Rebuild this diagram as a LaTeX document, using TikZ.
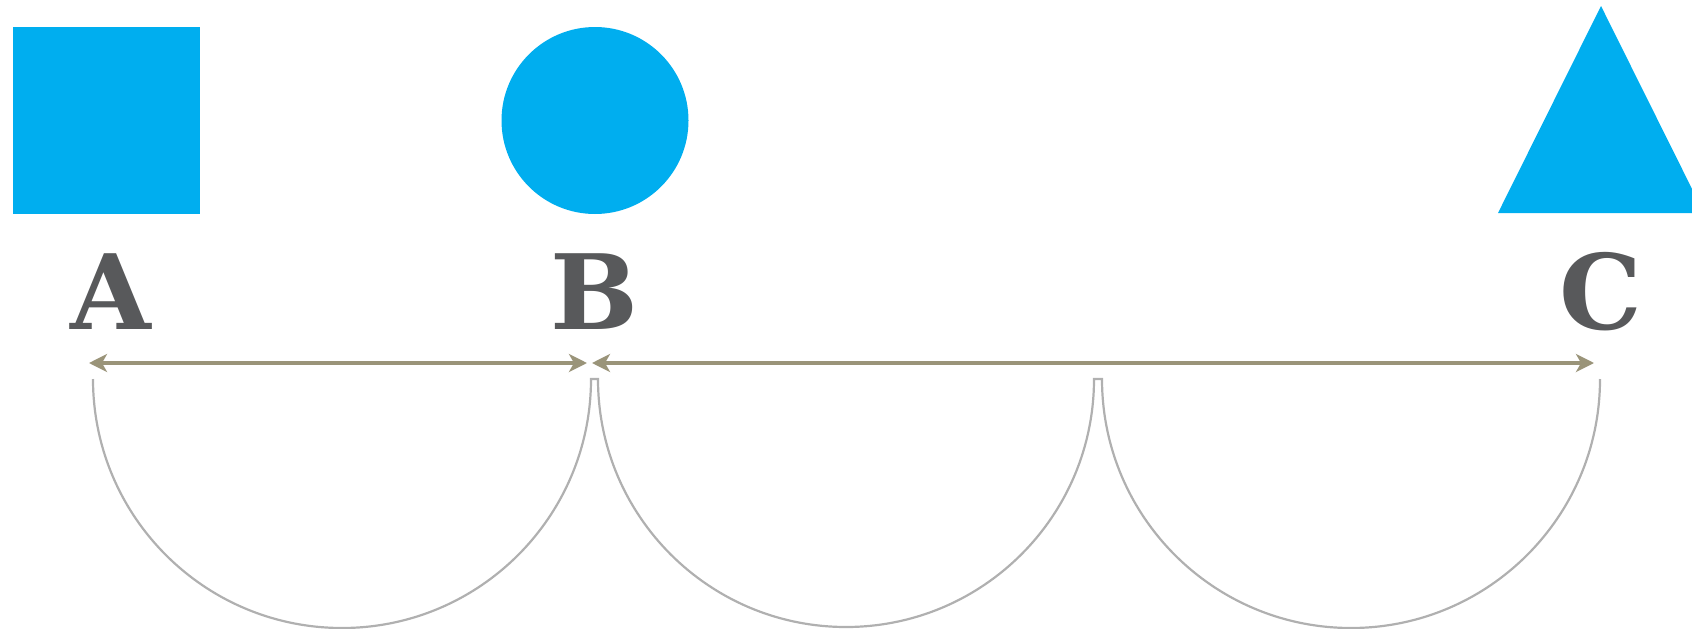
\documentclass[tikz,border=0pt]{standalone}
\usepackage{fontspec}
\newfontfamily\slabfont{DejaVu Serif}
\usetikzlibrary{arrows.meta}
\definecolor{shapeblue}{HTML}{00AEEF}
\definecolor{lettergray}{HTML}{58595B}
\definecolor{spanolive}{HTML}{9A9479}
\definecolor{arcgray}{HTML}{B0B0B0}
\tikzset{
  shapefill/.style={fill=shapeblue, draw=none},
  letter/.style={anchor=base, inner sep=0pt, text=lettergray,
    font=\slabfont\bfseries\fontsize{104}{104}\selectfont},
  span/.style={draw=spanolive, line width=3.4pt,
    {Stealth[length=18pt,width=18pt,inset=5pt]}-{Stealth[length=18pt,width=18pt,inset=5pt]}},
  bow/.style={draw=arcgray, line width=2.2pt},
}
\begin{document}
\begin{tikzpicture}[x=1pt,y=-1pt]
  \useasboundingbox (0,0) rectangle (1692,629);
  \begin{scope}
    \clip (0,0) rectangle (1692,629);
    % shapes
    \fill[shapefill] (13,27) rectangle (200,214);
    \fill[shapefill] (595,120.5) circle (93.5);
    \fill[shapefill] (1601,6) -- (1498,213) -- (1704,213) -- cycle;
  \end{scope}
  % letters
  \node[letter] (A) at (111,329) {A};
  \node[letter] (B) at (594,329) {B};
  \node[letter] (C) at (1601,329) {C};
  % span arrows
  \coordinate (a1) at (89,363);
  \coordinate (b1) at (587,363);
  \coordinate (b2) at (592,363);
  \coordinate (c1) at (1594,363);
  \draw[span] (a1) -- (b1);
  \draw[span] (b2) -- (c1);
  % chain of half circles hanging below the arrows
  \coordinate (p0) at (93,379);
  \draw[bow] (p0) arc[start angle=180, end angle=0, radius=249]
    -- ++(7,0) arc[start angle=180, end angle=0, radius=248]
    -- ++(8,0) arc[start angle=180, end angle=0, radius=249];
\end{tikzpicture}
\end{document}
